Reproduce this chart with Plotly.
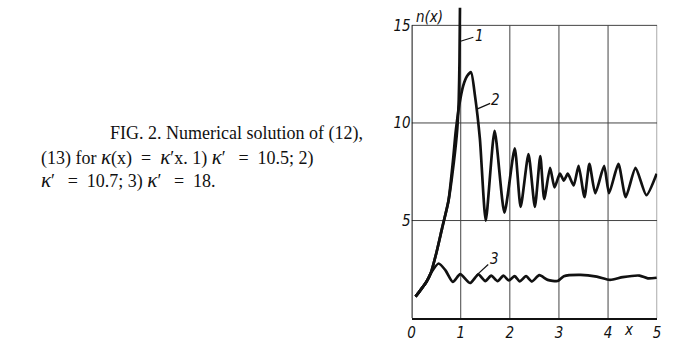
import plotly.graph_objects as go

x_common = [0.08, 0.2, 0.3, 0.39]
y_common = [1.1, 1.5, 1.85, 2.3]

x1 = x_common + [0.5, 0.62, 0.75, 0.86, 0.93, 0.96, 0.975, 0.985]
y1 = y_common + [3.3, 4.6, 6.0, 8.0, 9.7, 11.2, 13.2, 15.9]

x2 = x_common + [0.5, 0.62, 0.75, 0.84, 0.9, 0.97, 1.05, 1.13, 1.21, 1.29, 1.39, 1.51,
                 1.69, 1.89, 2.10, 2.22, 2.38, 2.51, 2.62, 2.70, 2.82, 2.91, 3.02, 3.10,
                 3.18, 3.30, 3.40, 3.52, 3.62, 3.74, 3.92, 4.02, 4.21, 4.36, 4.56, 4.78, 4.99]
y2 = y_common + [3.3, 4.6, 6.0, 8.0, 9.6, 10.9, 11.9, 12.4, 12.6, 11.4, 9.2, 5.0,
                 9.6, 5.4, 8.7, 5.7, 8.4, 5.7, 8.3, 6.1, 7.7, 6.7, 7.4, 7.05,
                 7.4, 6.8, 7.8, 6.2, 7.9, 6.4, 7.8, 6.4, 7.9, 6.2, 7.7, 6.3, 7.4]

x3 = x_common + [0.55, 0.69, 0.84, 0.99, 1.19, 1.36, 1.5, 1.62, 1.75, 1.87, 1.98, 2.1,
                 2.2, 2.33, 2.45, 2.6, 2.77, 2.97, 3.1, 3.44, 3.77, 4.04, 4.3, 4.64, 4.81, 4.99]
y3 = y_common + [2.8, 2.45, 1.85, 2.25, 1.8, 2.24, 1.9, 2.18, 1.9, 2.18, 1.93, 2.15,
                 1.88, 2.15, 1.88, 2.2, 1.96, 1.9, 2.15, 2.22, 2.13, 1.96, 2.1, 2.18, 2.04, 2.07]

x_ticks = [0, 1, 2, 3, 4, 5]
y_ticks = [5, 10, 15]

k = "<span style='font-size:21px'><i>κ</i></span>"
eq = "\u2002=\u2002"
caption = ["FIG. 2. Numerical solution of (12),",
           "(13) for " + k + "(x)" + eq + k + "′x. 1) " + k + "′\u2009" + eq + "10.5; 2)",
           k + "′\u2009" + eq + "10.7; 3) " + k + "′\u2009" + eq + "18."]

W, H = 675, 342
fig = go.Figure()
for xs, ys in [(x3, y3), (x2, y2), (x1, y1)]:
    fig.add_trace(go.Scatter(x=xs, y=ys, mode="lines", line=dict(color="#111", width=2.7, shape="spline", smoothing=0.6),
                             showlegend=False, hoverinfo="skip"))

grid = dict(type="line", xref="x", yref="y", line=dict(color="#444", width=1), layer="below")
for t in x_ticks[1:]:
    fig.add_shape(x0=t, x1=t, y0=0, y1=y_ticks[-1], **grid)
for t in y_ticks:
    fig.add_shape(x0=0, x1=x_ticks[-1], y0=t, y1=t, **grid)
fig.add_shape(type="line", xref="x", yref="y", x0=0, x1=0, y0=0, y1=y_ticks[-1], line=dict(color="#111", width=2))

tick_font = dict(family="DejaVu Sans Condensed, Liberation Sans", size=15, color="#111", style="italic")
lab = dict(xref="paper", yref="paper", showarrow=False, font=tick_font, xanchor="center", yanchor="middle")
fig.add_annotation(x=431 / W, y=1 - 17 / H, text="n(x)", **lab)
fig.add_annotation(x=632 / W, y=1 - 332 / H, text="x", **lab)
fig.add_annotation(x=481 / W, y=1 - 36 / H, text="1", **lab)
fig.add_annotation(x=497 / W, y=1 - 101 / H, text="2", **lab)
fig.add_annotation(x=496 / W, y=1 - 261 / H, text="3", **lab)

lead = dict(type="line", xref="paper", yref="paper", line=dict(color="#111", width=1.2))
for a, b in [((462, 41.5), (475, 37.5)), ((478, 110), (492, 104)), ((478, 277), (490, 266))]:
    fig.add_shape(x0=a[0] / W, y0=1 - a[1] / H, x1=b[0] / W, y1=1 - b[1] / H, **lead)

cap_font = dict(family="Liberation Serif, Times New Roman", size=18, color="#111")
for i, (line, x0) in enumerate(zip(caption, [105, 35, 35])):
    fig.add_annotation(x=x0 / W, y=1 - (134 + 23.5 * i) / H, text=line, xref="paper", yref="paper",
                       xanchor="left", yanchor="middle", showarrow=False, font=cap_font)

fig.update_layout(
    width=W, height=H, margin=dict(l=0, r=0, t=0, b=0),
    paper_bgcolor="white", plot_bgcolor="white",
    xaxis=dict(domain=[412.5 / W, 661 / W], range=[0, 5], tickvals=x_ticks, ticktext=[str(t) for t in x_ticks],
               showgrid=False, zeroline=False, showline=True, linecolor="#111", linewidth=2,
               ticks="", tickfont=tick_font),
    yaxis=dict(domain=[1 - 320 / H, 1], range=[0, 16.3], tickvals=y_ticks, ticktext=[str(t) for t in y_ticks],
               showgrid=False, zeroline=False, showline=False, ticks="", tickfont=tick_font),
)
fig.write_html("out.html", config={"displayModeBar": False},
               post_script="document.body.style.margin='0';")
